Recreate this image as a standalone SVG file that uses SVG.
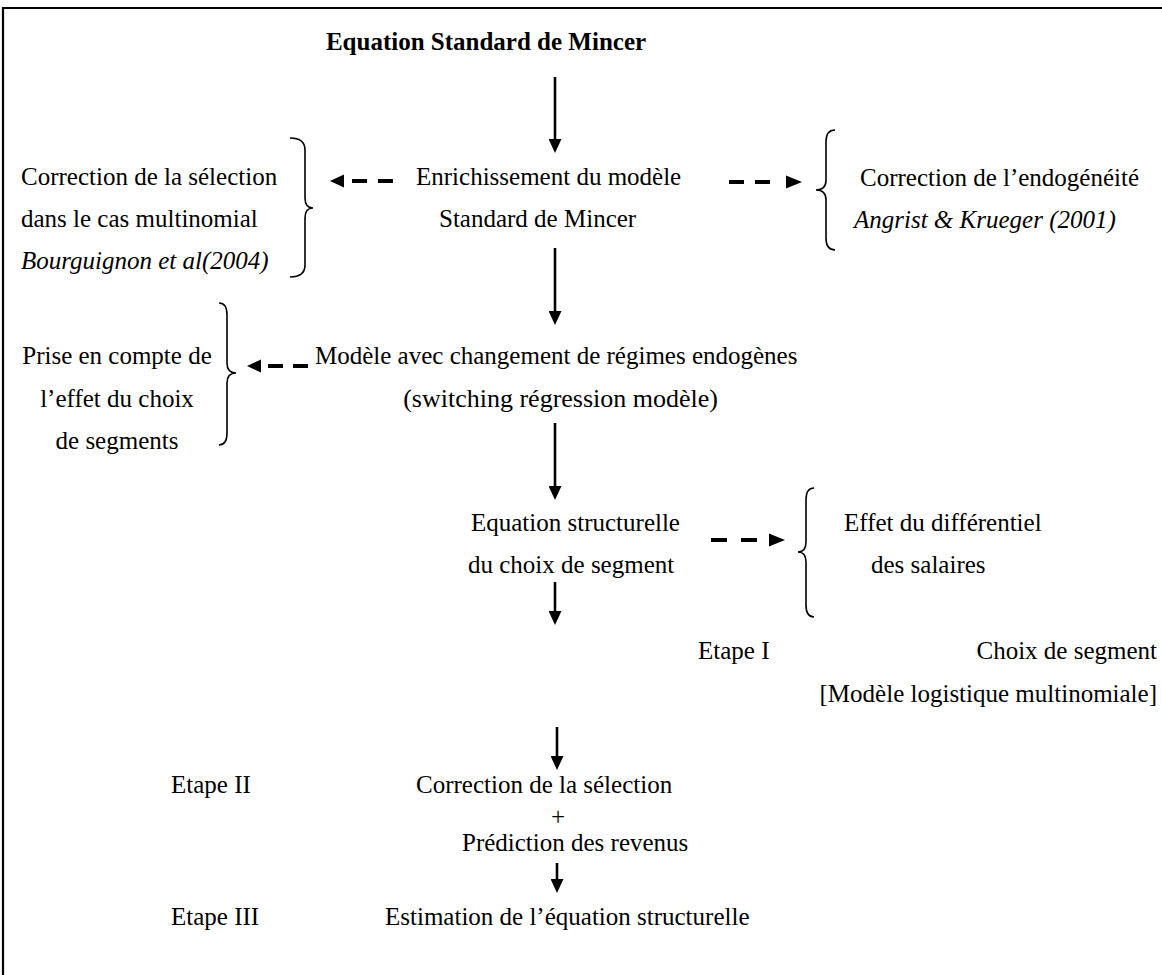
<svg xmlns="http://www.w3.org/2000/svg" width="1162" height="975" viewBox="0 0 1162 975">
<defs>
<marker id="ah" viewBox="0 0 14 13" refX="4" refY="6.5" markerWidth="14" markerHeight="13" markerUnits="userSpaceOnUse" orient="auto"><path d="M0,0 L14,6.5 L0,13 z" fill="#000"/></marker>
</defs>
<style>
text{font-family:"Liberation Serif","Times New Roman",serif;font-size:25px;fill:#000}
.b{font-weight:bold}
.i{font-style:italic}
.m{text-anchor:middle}
.e{text-anchor:end}
.sol{stroke:#000;stroke-width:2.6;fill:none}
.dash{stroke:#000;stroke-width:4;fill:none}
.hd{fill:#000}
.br{stroke:#000;stroke-width:1.6;fill:none}
</style>
<rect x="0" y="0" width="1162" height="975" fill="#fff"/>
<path d="M3,990 L3,8 L1170,8" stroke="#000" stroke-width="2.2" fill="none"/>

<g id="title"><text class="b m" x="486" y="50">Equation Standard de Mincer</text></g>

<g id="enrichissement">
<text x="416" y="185">Enrichissement du modèle</text>
<text x="439" y="227">Standard de Mincer</text>
</g>

<g id="selection-multinomial">
<text x="21" y="185">Correction de la sélection</text>
<text x="21" y="227">dans le cas multinomial</text>
<text class="i" x="21" y="269">Bourguignon et al(2004)</text>
<path class="br" d="M290,138 Q305,138 305,150 L305,198 Q305,208 313,208 Q305,208 305,218 L305,265 Q305,277 290,277"/>
</g>

<g id="endogeneite">
<text x="860" y="186">Correction de l’endogénéité</text>
<text class="i" x="854" y="228">Angrist &amp; Krueger (2001)</text>
<path class="br" d="M835,130 Q826,130 826,142 L826,180 Q826,190 816,190 Q826,190 826,200 L826,238 Q826,250 835,250"/>
</g>

<g id="changement-regimes">
<text x="315" y="364">Modèle avec changement de régimes endogènes</text>
<text class="e" x="718" y="407" style="font-size:26px">(switching régression modèle)</text>
</g>

<g id="choix-segments">
<text class="m" x="117" y="364">Prise en compte de</text>
<text class="m" x="117" y="407">l’effet du choix</text>
<text class="m" x="117" y="449">de segments</text>
<path class="br" d="M219,303 Q227,303 227,315 L227,363 Q227,373 236,373 Q227,373 227,383 L227,433 Q227,445 219,445"/>
</g>

<g id="equation-structurelle">
<text x="471" y="531">Equation structurelle</text>
<text x="468" y="573">du choix de segment</text>
</g>

<g id="differentiel">
<text x="844" y="531">Effet du différentiel</text>
<text x="871" y="573">des salaires</text>
<path class="br" d="M814,488 Q806,488 806,500 L806,542 Q806,552 798,552 Q806,552 806,562 L806,605 Q806,617 814,617"/>
</g>

<g id="etape1">
<text x="698" y="659">Etape I</text>
<text class="e" x="1157" y="659">Choix de segment</text>
<text class="e" x="1157" y="702">[Modèle logistique multinomiale]</text>
</g>

<g id="etape2">
<text x="171" y="793">Etape II</text>
<text x="416" y="793">Correction de la sélection</text>
<text class="m" x="558" y="825">+</text>
<text x="462" y="851">Prédiction des revenus</text>
</g>

<g id="etape3">
<text x="171" y="925">Etape III</text>
<text x="385" y="925">Estimation de l’équation structurelle</text>
</g>

<g id="connectors">
<line class="sol" x1="555" y1="77" x2="555" y2="143" marker-end="url(#ah)"/>
<line class="sol" x1="555" y1="248" x2="555" y2="315" marker-end="url(#ah)"/>
<line class="sol" x1="555" y1="423" x2="555" y2="490" marker-end="url(#ah)"/>
<line class="sol" x1="555" y1="582" x2="555" y2="615" marker-end="url(#ah)"/>
<line class="sol" x1="557" y1="727" x2="557" y2="760" marker-end="url(#ah)"/>
<line class="sol" x1="557" y1="863" x2="557" y2="883" marker-end="url(#ah)"/>

<line class="dash" x1="393" y1="181" x2="352" y2="181" stroke-dasharray="15 11"/>
<polygon class="hd" points="330,181 344,174.5 344,187.5"/>
<line class="dash" x1="729" y1="182" x2="770" y2="182" stroke-dasharray="15 11"/>
<polygon class="hd" points="802,182 786,175.5 786,188.5"/>
<line class="dash" x1="308" y1="366" x2="268" y2="366" stroke-dasharray="15 10"/>
<polygon class="hd" points="247,366 261,359.5 261,372.5"/>
<line class="dash" x1="711" y1="540" x2="757" y2="540" stroke-dasharray="16 14"/>
<polygon class="hd" points="785,540 769,533.5 769,546.5"/>
</g>
</svg>
